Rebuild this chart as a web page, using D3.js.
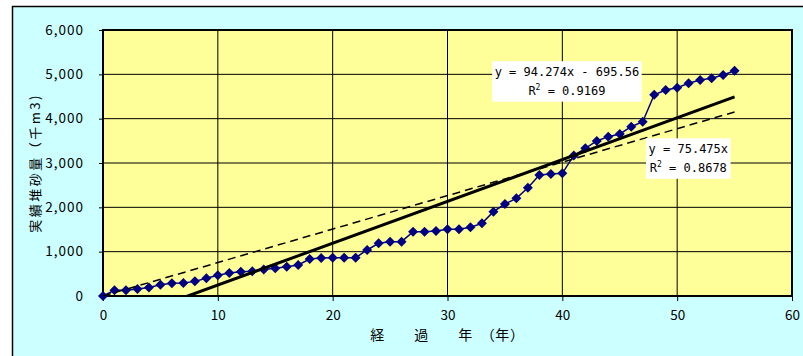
<!DOCTYPE html>
<html>
<head>
<meta charset="utf-8">
<script src="https://cdn.jsdelivr.net/npm/d3@7"></script>
<style>
  html, body { margin: 0; padding: 0; background: #ffffff; }
  svg { display: block; }
</style>
</head>
<body>
<svg id="chart" width="803" height="356"></svg>
<script>
// Elapsed years and cumulative sediment volume (thousand m3)
const years = [0, 1, 2, 3, 4, 5, 6, 7, 8, 9,
  10, 11, 12, 13, 14, 15, 16, 17, 18, 19,
  20, 21, 22, 23, 24, 25, 26, 27, 28, 29,
  30, 31, 32, 33, 34, 35, 36, 37, 38, 39,
  40, 41, 42, 43, 44, 45, 46, 47, 48, 49,
  50, 51, 52, 53, 54, 55];
const sediment = [0, 130, 130, 160, 190, 255, 285, 295, 330, 400,
  470, 520, 549, 560, 600, 624, 662, 699, 835, 855,
  865, 865, 865, 1038, 1188, 1226, 1226, 1451, 1451, 1466,
  1504, 1504, 1549, 1639, 1902, 2075, 2203, 2443, 2730, 2752,
  2767, 3170, 3331, 3497, 3594, 3654, 3819, 3932, 4540, 4647,
  4699, 4798, 4873, 4910, 4985, 5082];

const xTicks = [0, 10, 20, 30, 40, 50, 60];
const yTicks = [0, 1000, 2000, 3000, 4000, 5000, 6000];

// Trend lines: [linear with intercept, through origin]
const fitSlopes = [94.274, 75.475];
const fitIntercepts = [-695.56, 0];
const fitR2 = [0.9169, 0.8678];

const xTitle = "経　　過　　年　（年）";
const yTitle = "実績堆砂量（千m3)";

const svg = d3.select("#chart");
const jp = "'Noto Sans CJK JP', 'Noto Sans', sans-serif";

const plotL = 103, plotR = 792, plotT = 30, plotB = 296;
const x = d3.scaleLinear().domain([0, 60]).range([plotL, plotR]);
const y = d3.scaleLinear().domain([0, 6000]).range([plotB, plotT]);

// chart area
svg.append("rect")
  .attr("x", 12.5).attr("y", 6.5)
  .attr("width", 820).attr("height", 380)
  .attr("fill", "#ccffff")
  .attr("stroke", "#000").attr("stroke-width", 1.5);

// plot area
svg.append("rect")
  .attr("x", plotL).attr("y", plotT)
  .attr("width", plotR - plotL).attr("height", plotB - plotT)
  .attr("fill", "#ffff99");

svg.append("defs").append("clipPath").attr("id", "plotClip")
  .append("rect")
  .attr("x", plotL).attr("y", plotT)
  .attr("width", plotR - plotL).attr("height", plotB - plotT);

// gridlines
const grid = svg.append("g").attr("stroke", "#000").attr("stroke-width", 1);
grid.selectAll("line.h")
  .data(yTicks.filter(v => v > 0 && v < 6000))
  .join("line").attr("class", "h")
  .attr("x1", plotL).attr("x2", plotR)
  .attr("y1", d => y(d)).attr("y2", d => y(d));
grid.selectAll("line.v")
  .data(xTicks.filter(v => v > 0 && v < 60))
  .join("line").attr("class", "v")
  .attr("y1", plotT).attr("y2", plotB)
  .attr("x1", d => x(d)).attr("x2", d => x(d));

// axes
const fmt = d3.format(",");
const yAxis = svg.append("g")
  .attr("transform", `translate(${plotL},0)`)
  .call(d3.axisLeft(y).tickValues(yTicks).tickFormat(fmt).tickSize(4).tickPadding(15));
const xAxis = svg.append("g")
  .attr("transform", `translate(0,${plotB})`)
  .call(d3.axisBottom(x).tickValues(xTicks).tickFormat(d3.format("d")).tickSize(5).tickPadding(9));
[yAxis, xAxis].forEach(g => {
  g.select(".domain").remove();
  g.selectAll(".tick line").attr("stroke", "#000");
  g.selectAll("text")
    .attr("fill", "#000")
    .style("font-family", jp)
    .style("font-size", "13.5px");
});
yAxis.selectAll("text").style("letter-spacing", "1px");

// plot border
svg.append("rect")
  .attr("x", plotL).attr("y", plotT)
  .attr("width", plotR - plotL).attr("height", plotB - plotT)
  .attr("fill", "none").attr("stroke", "#000").attr("stroke-width", 2);

// data series
const points = years.map((yr, i) => [yr, sediment[i]]);
const series = svg.append("g");
series.append("path")
  .datum(points)
  .attr("fill", "none")
  .attr("stroke", "#000080")
  .attr("stroke-width", 1.5)
  .attr("d", d3.line().x(d => x(d[0])).y(d => y(d[1])));
const diamond = d3.symbol().type(d3.symbolSquare).size(50);
series.selectAll("path.mk")
  .data(points)
  .join("path").attr("class", "mk")
  .attr("d", diamond)
  .attr("transform", d => `translate(${x(d[0])},${y(d[1])}) rotate(45)`)
  .attr("fill", "#000080");

// trend lines over the data range
const xFirst = years[0], xLast = years[years.length - 1];
const trendStyles = [
  { width: 3, dash: null },
  { width: 1.5, dash: "8,5" }
];
fitSlopes.forEach((m, i) => {
  const b = fitIntercepts[i];
  svg.append("g").attr("clip-path", "url(#plotClip)")
    .append("line")
    .attr("x1", x(xFirst)).attr("y1", y(m * xFirst + b))
    .attr("x2", x(xLast)).attr("y2", y(m * xLast + b))
    .attr("stroke", "#000")
    .attr("stroke-width", trendStyles[i].width)
    .attr("stroke-dasharray", trendStyles[i].dash);
});

// equation labels
const labelAnchors = [[40.4, 4845], [50.97, 3106]];
fitSlopes.forEach((m, i) => {
  const b = fitIntercepts[i];
  let eq = `y = ${m}x`;
  if (b !== 0) eq += (b < 0 ? ` - ${Math.abs(b)}` : ` + ${b}`);
  const cx = x(labelAnchors[i][0]), cy = y(labelAnchors[i][1]);
  const g = svg.append("g");
  const box = g.append("rect").attr("fill", "#fff");
  const t = g.append("text")
    .attr("text-anchor", "middle")
    .attr("fill", "#000")
    .style("font-family", "'DejaVu Sans Mono', monospace")
    .style("font-size", "12px");
  t.append("tspan").attr("x", cx).attr("y", cy - 5.5).text(eq);
  const l2 = t.append("tspan").attr("x", cx).attr("y", cy + 13.5).text("R");
  l2.append("tspan").attr("dy", -5).style("font-size", "8px").text("2");
  l2.append("tspan").attr("dy", 5).text(` = ${fitR2[i]}`);
  const bb = t.node().getBBox();
  box.attr("x", bb.x - 2.5).attr("y", cy - 20)
    .attr("width", bb.width + 5).attr("height", 40.5);
});

// axis titles
svg.append("text")
  .attr("x", (plotL + plotR) / 2).attr("y", 340)
  .attr("text-anchor", "middle")
  .attr("fill", "#000")
  .style("font-family", jp)
  .style("font-size", "14px")
  .style("letter-spacing", "0.67px")
  .text(xTitle);

svg.append("text")
  .attr("transform", `translate(40,${(plotT + plotB) / 2}) rotate(-90)`)
  .attr("text-anchor", "middle")
  .attr("fill", "#000")
  .style("font-family", jp)
  .style("font-size", "13px")
  .style("letter-spacing", "2.5px")
  .text(yTitle);
</script>
</body>
</html>
